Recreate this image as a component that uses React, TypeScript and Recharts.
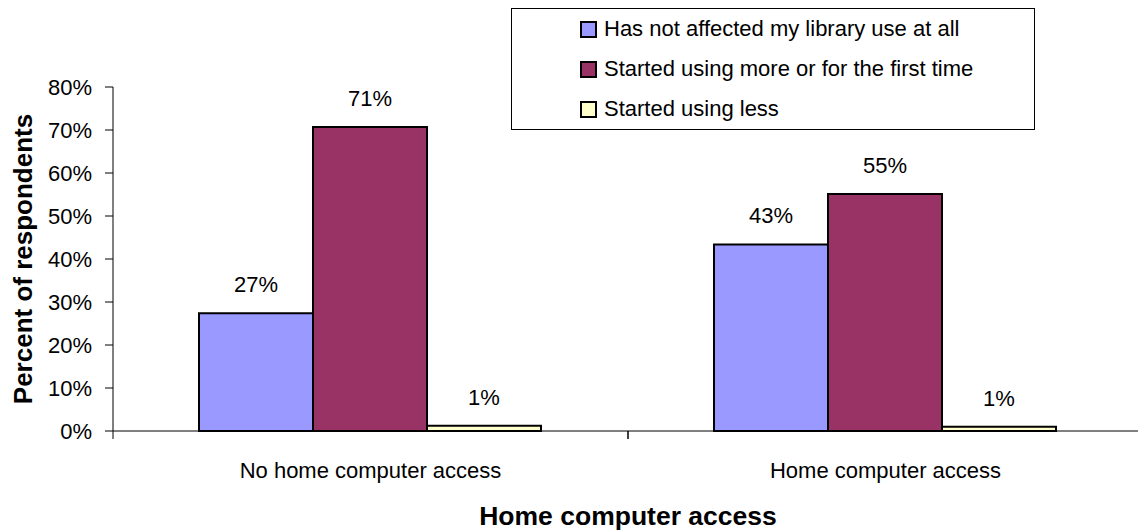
import { BarChart, Bar, XAxis, YAxis, Legend, LabelList, Label } from 'recharts'

const categories = ['No home computer access', 'Home computer access']
const notAffected = [27.4, 43.4]
const usingMore = [70.7, 55.1]
const usingLess = [1.2, 1.0]
const yTicks = [0, 10, 20, 30, 40, 50, 60, 70, 80]

const seriesNames = [
  'Has not affected my library use at all',
  'Started using more or for the first time',
  'Started using less',
]

const FONT = '"Liberation Sans", Arial, sans-serif'
const TICK_GAP = 31

const data = categories.map((name, i) => ({
  name,
  a: notAffected[i],
  b: usingMore[i],
  c: usingLess[i],
}))

const pct = (v: number) => `${Math.round(v)}%`

// category label, plus Excel-style tick marks on the category edges
function CategoryTick({ x, y, payload }: any) {
  const half = payload?.offset ?? 0
  const axisY = y - TICK_GAP
  return (
    <g>
      {half > 0 && (
        <>
          <line x1={x - half} x2={x - half} y1={axisY} y2={axisY + 8} stroke="#000" />
          <line x1={x + half} x2={x + half} y1={axisY} y2={axisY + 8} stroke="#000" />
        </>
      )}
      <text x={x} y={y} dy="0.71em" textAnchor="middle" fontSize={22} fill="#000">
        {payload.value}
      </text>
    </g>
  )
}

function LegendBox({ payload }: any) {
  // keep the series order, not the alphabetical one
  const items = [...(payload ?? [])].sort(
    (p: any, q: any) => seriesNames.indexOf(p.value) - seriesNames.indexOf(q.value),
  )
  return (
    <div
      style={{
        width: 524,
        height: 122,
        border: '1px solid #000',
        background: '#fff',
        boxSizing: 'border-box',
        fontFamily: FONT,
        fontSize: 22,
        color: '#000',
      }}
    >
      {items.map((entry: any) => (
        <div
          key={entry.value}
          style={{ height: 40, display: 'flex', alignItems: 'center', paddingLeft: 68 }}
        >
          <span
            style={{
              width: 13,
              height: 13,
              border: '2px solid #000',
              background: entry.color,
              display: 'inline-block',
              marginRight: 7,
            }}
          />
          <span>{entry.value}</span>
        </div>
      ))}
    </div>
  )
}

export default function App() {
  return (
    <div style={{ position: 'fixed', left: 0, top: 0, width: 1138, height: 531, overflow: 'hidden', background: '#fff' }}>
      <BarChart
        width={1150}
        height={531}
        data={data}
        margin={{ top: 87, right: 7, left: 0, bottom: 0 }}
        barCategoryGap="16.7%"
        barGap={0}
        style={{ fontFamily: FONT }}
      >
        <XAxis
          dataKey="name"
          height={100}
          axisLine={{ stroke: '#000' }}
          tickLine={false}
          tickSize={0}
          tickMargin={TICK_GAP}
          tick={<CategoryTick />}
          interval={0}
        >
          <Label
            content={({ viewBox }: any) => (
              <text
                x={viewBox.x + viewBox.width / 2}
                y={viewBox.y + 94}
                textAnchor="middle"
                fontSize={26.5}
                fontWeight="bold"
                fill="#000"
              >
                Home computer access
              </text>
            )}
          />
        </XAxis>
        <YAxis
          width={113}
          domain={[0, 80]}
          ticks={yTicks}
          tickFormatter={(v: number) => `${v}%`}
          tickSize={8}
          tickMargin={13}
          tick={{ fill: '#000', fontSize: 22 }}
          axisLine={{ stroke: '#000' }}
          tickLine={{ stroke: '#000' }}
        >
          <Label
            content={({ viewBox }: any) => {
              const cx = viewBox.x + 23
              const cy = viewBox.y + viewBox.height / 2
              return (
                <text
                  x={cx}
                  y={cy}
                  transform={`rotate(-90, ${cx}, ${cy})`}
                  textAnchor="middle"
                  dominantBaseline="central"
                  fontSize={26}
                  fontWeight="bold"
                  fill="#000"
                >
                  Percent of respondents
                </text>
              )
            }}
          />
        </YAxis>
        <Legend
          verticalAlign="middle"
          align="center"
          content={<LegendBox />}
          wrapperStyle={{ left: 511, top: 8, width: 524, height: 122 }}
        />
        <Bar dataKey="a" name={seriesNames[0]} fill="#9999FF" stroke="#000" strokeWidth={2} isAnimationActive={false}>
          <LabelList dataKey="a" position="top" offset={21} formatter={pct} fill="#000" fontSize={22} />
        </Bar>
        <Bar dataKey="b" name={seriesNames[1]} fill="#993366" stroke="#000" strokeWidth={2} isAnimationActive={false}>
          <LabelList dataKey="b" position="top" offset={21} formatter={pct} fill="#000" fontSize={22} />
        </Bar>
        <Bar dataKey="c" name={seriesNames[2]} fill="#FFFFCC" stroke="#000" strokeWidth={2} isAnimationActive={false}>
          <LabelList dataKey="c" position="top" offset={21} formatter={pct} fill="#000" fontSize={22} />
        </Bar>
      </BarChart>
    </div>
  )
}
